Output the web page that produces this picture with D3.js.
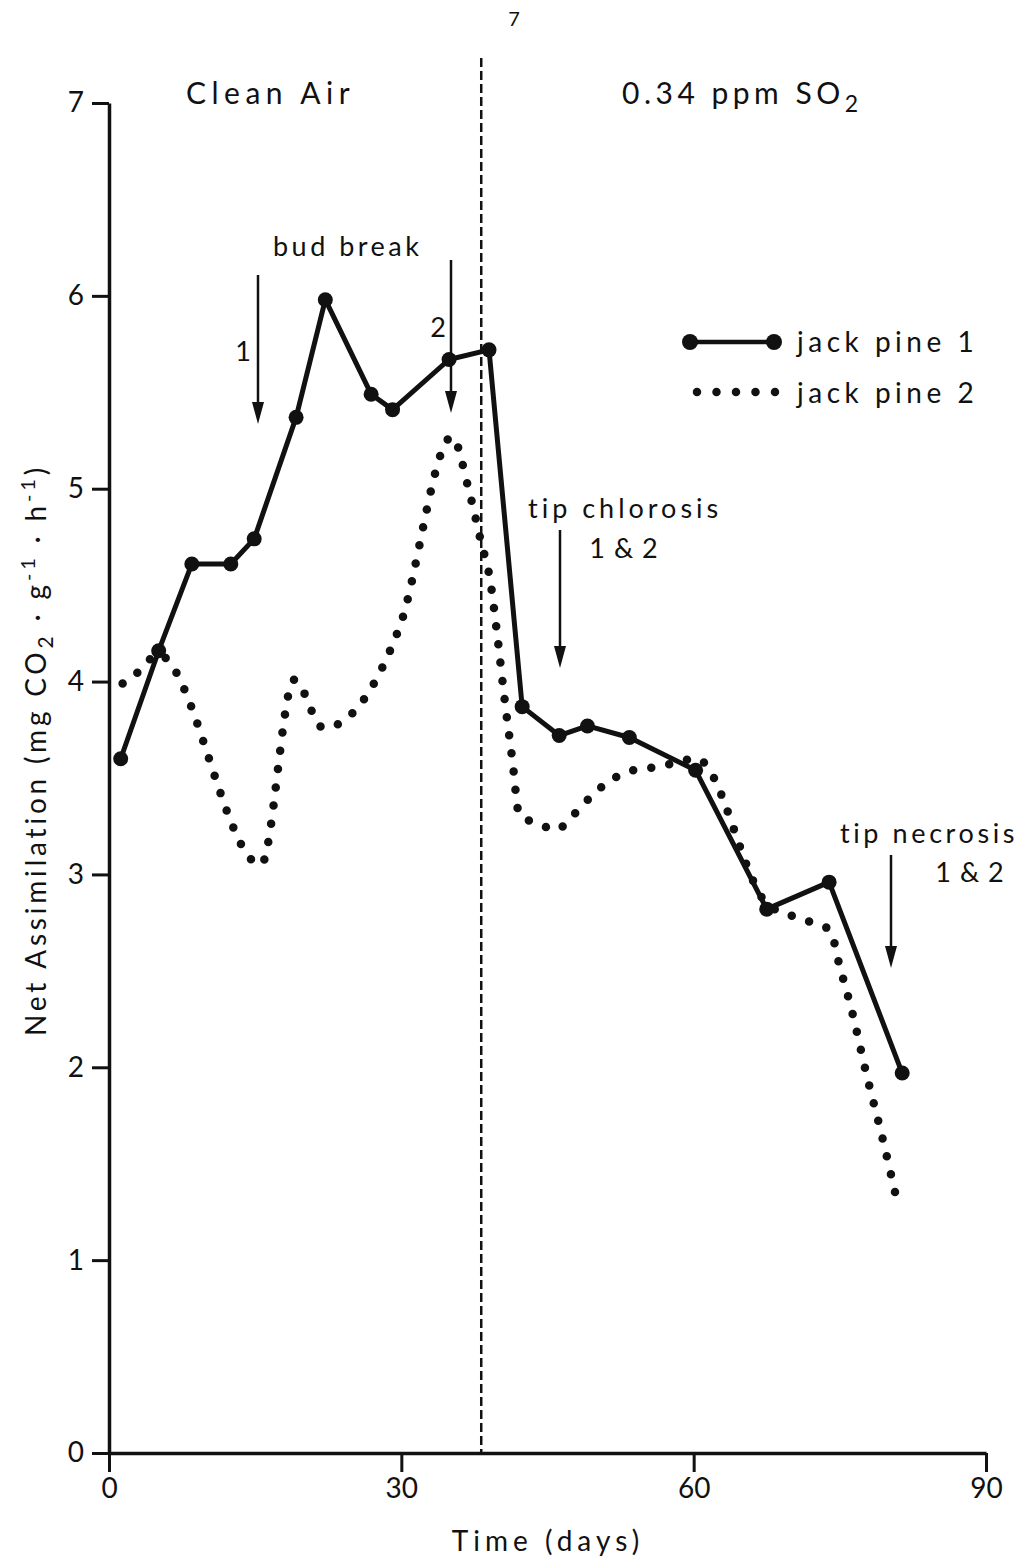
<!DOCTYPE html>
<html>
<head>
<meta charset="utf-8">
<script src="https://cdn.jsdelivr.net/npm/d3@7"></script>
<style>
  body { margin: 0; background: #fff; }
  text { font-family: Lato, "DejaVu Sans", sans-serif; fill: #111; }
</style>
</head>
<body>
<div id="chart"></div>
<script>
// jack pine 1 (solid line, measured points)
const pine1Days = [1.2, 5.1, 8.5, 12.5, 14.9, 19.2, 22.2, 26.9, 29.1, 34.9, 39.0, 42.4, 46.2, 49.1, 53.4, 60.2, 67.5, 73.9, 81.4];
const pine1Values = [3.60, 4.16, 4.61, 4.61, 4.74, 5.37, 5.98, 5.49, 5.41, 5.67, 5.72, 3.87, 3.72, 3.77, 3.71, 3.54, 2.82, 2.96, 1.97];

// jack pine 2 (dotted curve)
const pine2Days = [1.4, 3.0, 5.0, 15.6, 19.0, 22.0, 29.8, 35.2, 36.9, 38.2, 39.1, 39.8, 40.5, 41.4, 42.1, 44.2, 45.9, 47.5, 50.0, 53.1, 56.6, 60.3, 67.5, 70.4, 72.2, 74.0, 75.0, 76.1, 77.8, 79.2, 80.9];
const pine2Values = [3.99, 4.05, 4.14, 3.05, 4.01, 3.76, 4.28, 5.27, 5.00, 4.72, 4.53, 4.26, 3.95, 3.59, 3.31, 3.26, 3.23, 3.30, 3.43, 3.53, 3.56, 3.60, 2.85, 2.78, 2.75, 2.71, 2.52, 2.32, 1.95, 1.67, 1.30];

const xTicks = [0, 30, 60, 90];
const yTicks = [0, 1, 2, 3, 4, 5, 6, 7];
const exposureDay = 38.2;

const W = 1032, H = 1559;
const svg = d3.select("#chart").append("svg")
    .attr("width", W)
    .attr("height", H);

const x = d3.scaleLinear().domain([0, 90]).range([109, 986]);
const y = d3.scaleLinear().domain([0, 7]).range([1453, 103]);

// axes
const yAxis = svg.append("g")
    .attr("transform", "translate(" + x(0) + ",0)")
    .call(d3.axisLeft(y).tickValues(yTicks).tickFormat(d3.format("d")).tickSize(17).tickSizeOuter(0).tickPadding(8));
const xAxis = svg.append("g")
    .attr("transform", "translate(0," + y(0) + ")")
    .call(d3.axisBottom(x).tickValues(xTicks).tickFormat(d3.format("d")).tickSize(19).tickSizeOuter(0).tickPadding(6));

[yAxis, xAxis].forEach(function(a) {
    a.select(".domain").attr("stroke", "#111").attr("stroke-width", 3.5);
    a.selectAll(".tick line").attr("stroke", "#111").attr("stroke-width", 3);
    a.selectAll(".tick text")
        .attr("font-size", 28)
        .attr("fill", "#111")
        .style("font-family", "Lato, 'DejaVu Sans', sans-serif");
});

// dashed line marking start of SO2 exposure
svg.append("line")
    .attr("x1", x(exposureDay)).attr("x2", x(exposureDay))
    .attr("y1", 58).attr("y2", y(0))
    .attr("stroke", "#111")
    .attr("stroke-width", 2.5)
    .attr("stroke-dasharray", "9,4");

// series
const pine1 = pine1Days.map((d, i) => ({day: d, value: pine1Values[i]}));
const pine2 = pine2Days.map((d, i) => ({day: d, value: pine2Values[i]}));

const line = d3.line()
    .x(d => x(d.day))
    .y(d => y(d.value));

svg.append("path")
    .datum(pine2)
    .attr("d", line.curve(d3.curveMonotoneX))
    .attr("fill", "none")
    .attr("stroke", "#111")
    .attr("stroke-width", 8.5)
    .attr("stroke-linecap", "round")
    .attr("stroke-dasharray", "0,18.3");

svg.append("path")
    .datum(pine1)
    .attr("d", line.curve(d3.curveLinear))
    .attr("fill", "none")
    .attr("stroke", "#111")
    .attr("stroke-width", 5)
    .attr("stroke-linejoin", "round");

svg.selectAll("circle.p1")
    .data(pine1)
    .join("circle")
    .attr("class", "p1")
    .attr("cx", d => x(d.day))
    .attr("cy", d => y(d.value))
    .attr("r", 7.5)
    .attr("fill", "#111");

// legend
const legend = svg.append("g");
legend.append("line")
    .attr("x1", 690).attr("x2", 774).attr("y1", 342).attr("y2", 342)
    .attr("stroke", "#111").attr("stroke-width", 4.5);
legend.selectAll("circle")
    .data([690, 774])
    .join("circle")
    .attr("cx", d => d).attr("cy", 342).attr("r", 8).attr("fill", "#111");
legend.append("line")
    .attr("x1", 697).attr("x2", 776).attr("y1", 392).attr("y2", 392)
    .attr("stroke", "#111").attr("stroke-width", 8.5)
    .attr("stroke-linecap", "round")
    .attr("stroke-dasharray", "0,19.5");
legend.selectAll("text")
    .data(["jack pine  1", "jack pine  2"])
    .join("text")
    .attr("x", 797)
    .attr("y", (d, i) => 352 + i * 51)
    .attr("font-size", 28)
    .attr("letter-spacing", 4.5)
    .text(d => d);

// annotations
function label(txt, px, py, size, spacing, anchor) {
    return svg.append("text")
        .attr("x", px).attr("y", py)
        .attr("font-size", size)
        .attr("letter-spacing", spacing)
        .attr("text-anchor", anchor || "start")
        .text(txt);
}

label("7", 514, 26, 20, 0, "middle");
label("Clean  Air", 186, 104, 30, 5.5);
const so2 = label("0.34 ppm SO", 622, 104, 30, 4.5);
so2.append("tspan").attr("font-size", 23).attr("dy", 8).text("2");

label("bud break", 273, 256, 27, 3.5);
label("1", 243, 361, 27, 0, "middle");
label("2", 438, 337, 27, 0, "middle");
label("tip chlorosis", 528, 518, 27, 4);
label("1 & 2", 624, 558, 27, 1, "middle");
label("tip necrosis", 840, 843, 27, 3.6);
label("1 & 2", 970, 882, 27, 1, "middle");

// arrows
const arrows = [
    {x: 258, y1: 275, y2: 424},
    {x: 451, y1: 260, y2: 413},
    {x: 560, y1: 530, y2: 668},
    {x: 891, y1: 855, y2: 968}
];
arrows.forEach(function(a) {
    svg.append("line")
        .attr("x1", a.x).attr("x2", a.x)
        .attr("y1", a.y1).attr("y2", a.y2 - 10)
        .attr("stroke", "#111").attr("stroke-width", 2.5);
    svg.append("path")
        .attr("d", "M" + (a.x - 6) + "," + (a.y2 - 22) + " L" + (a.x + 6) + "," + (a.y2 - 22) + " L" + a.x + "," + a.y2 + " Z")
        .attr("fill", "#111");
});

// axis titles
label("Time (days)", 548, 1551, 28, 5, "middle");

const yLabel = svg.append("text")
    .attr("transform", "translate(46,750) rotate(-90)")
    .attr("text-anchor", "middle")
    .attr("font-size", 28)
    .attr("letter-spacing", 3.8);
yLabel.append("tspan").text("Net Assimilation    (mg CO");
yLabel.append("tspan").attr("font-size", 21).attr("dy", 7).text("2");
yLabel.append("tspan").attr("dy", -7).text(" · g");
yLabel.append("tspan").attr("font-size", 20).attr("dy", -11).text("-1");
yLabel.append("tspan").attr("dy", 11).text(" · h");
yLabel.append("tspan").attr("font-size", 20).attr("dy", -11).text("-1");
yLabel.append("tspan").attr("dy", 11).text(")");
</script>
</body>
</html>
